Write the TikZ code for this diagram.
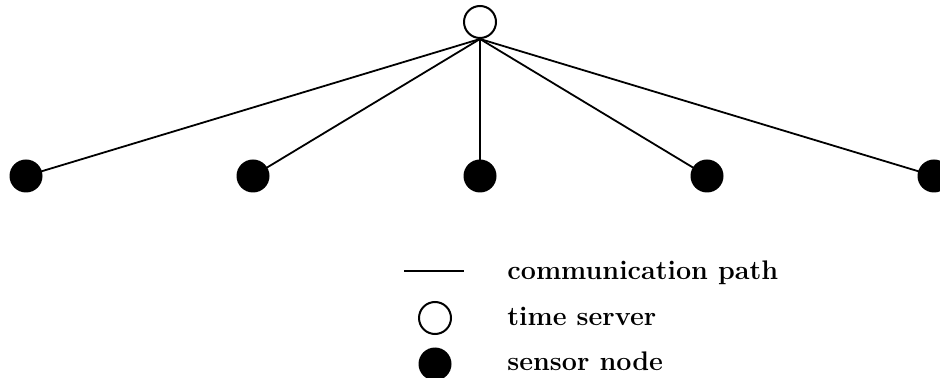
\documentclass[tikz,border=0pt]{standalone}
\begin{document}
\begin{tikzpicture}[x=0.5pt,y=-0.5pt,
  server/.style={circle,draw,line width=1pt,fill=white,minimum size=16pt,inner sep=0pt},
  sensor/.style={circle,fill=black,minimum size=16.5pt,inner sep=0pt},
  path line/.style={line width=0.9pt},
  legend text/.style={anchor=base west,inner sep=0pt,font=\fontsize{13.45}{15}\selectfont\bfseries}]
  \useasboundingbox (0,0) rectangle (940,378);
  \clip (0,0) rectangle (940,378);
  % time server and sensor node positions
  \node[server] (ts) at (480,22) {};
  \foreach \i/\x in {1/26,2/253,3/480,4/707,5/934}{
    \coordinate (s\i) at (\x,176);
  }
  % communication paths from the server to every sensor
  \foreach \i in {1,...,5}{
    \draw[path line] (ts.south) -- (s\i);
  }
  % sensors on top of the paths
  \foreach \i in {1,...,5}{
    \node[sensor] (n\i) at (s\i) {};
  }
  % legend
  \coordinate (la) at (404,271);
  \coordinate (lb) at (464,271);
  \draw[path line] (la) -- (lb);
  \node[server] (lts) at (435,318) {};
  \node[sensor] (lsn) at (435,364) {};
  \node[legend text] (t1) at (507,280) {communication path};
  \node[legend text] (t2) at (507,326) {time server};
  \node[legend text] (t3) at (507,371) {sensor node};
\end{tikzpicture}
\end{document}
